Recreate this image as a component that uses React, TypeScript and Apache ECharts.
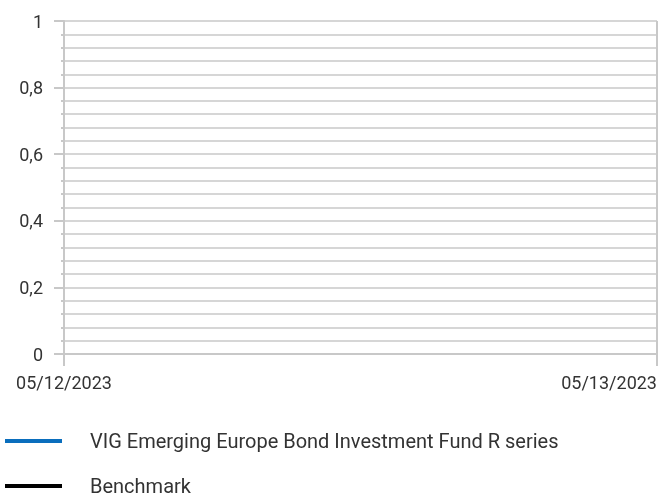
import React, { useEffect, useRef } from "react";
import * as echarts from "echarts";

const categories: string[] = ["05/12/2023", "05/13/2023"];
const fundSeriesName = "VIG Emerging Europe Bond Investment Fund R series";
const benchmarkName = "Benchmark";
// No values are plotted in the reference chart
const fundValues: (number | null)[] = [];
const benchmarkValues: (number | null)[] = [];
const yMin = 0;
const yMax = 1;
const yInterval = 0.2;

const FONT = "Roboto";
const GRID_COLOR = "#d6d6d6";
const AXIS_COLOR = "#c8c8c8";
const TEXT_COLOR = "#333333";

const legendText = {
  fontFamily: FONT,
  fontSize: 20,
  color: TEXT_COLOR,
  lineHeight: 22,
  padding: [0, 0, 0, 23],
};

export default function App() {
  const ref = useRef<HTMLDivElement>(null);
  useEffect(() => {
    if (!ref.current) return;
    const chart = echarts.init(ref.current, undefined, { renderer: "svg" });
    chart.setOption({
      animation: false,
      grid: { left: 64, right: 7, top: 21, bottom: 140, containLabel: false, outerBoundsMode: "none" },
      legend: [
        {
          left: 5,
          top: 430,
          padding: 0,
          icon: "rect",
          itemWidth: 57,
          itemHeight: 4,
          textStyle: legendText,
          data: [fundSeriesName],
        },
        {
          left: 5,
          top: 475,
          padding: 0,
          icon: "rect",
          itemWidth: 57,
          itemHeight: 4,
          textStyle: legendText,
          data: [benchmarkName],
        },
      ],
      xAxis: {
        type: "category",
        boundaryGap: false,
        data: categories,
        axisLine: { show: true, lineStyle: { color: AXIS_COLOR, width: 2 } },
        axisTick: { show: true, length: 12, lineStyle: { color: AXIS_COLOR, width: 2 } },
        axisLabel: {
          fontFamily: FONT,
          fontSize: 18,
          color: TEXT_COLOR,
          margin: 19,
          verticalAlign: "top",
          interval: 0,
          alignMaxLabel: "right",
        },
        splitLine: { show: true, lineStyle: { color: AXIS_COLOR, width: 2 } },
      },
      yAxis: {
        type: "value",
        min: yMin,
        max: yMax,
        interval: yInterval,
        axisLine: { show: true, lineStyle: { color: AXIS_COLOR, width: 2 } },
        axisTick: { show: true, length: 10, lineStyle: { color: AXIS_COLOR, width: 2 } },
        minorTick: { show: true, splitNumber: 5, length: 3, lineStyle: { color: AXIS_COLOR, width: 2 } },
        minorSplitLine: { show: true, lineStyle: { color: GRID_COLOR, width: 2 } },
        splitLine: { show: true, lineStyle: { color: GRID_COLOR, width: 2 } },
        axisLabel: {
          fontFamily: FONT,
          fontSize: 18,
          color: TEXT_COLOR,
          margin: 21,
          formatter: (v: number) => String(Math.round(v * 10) / 10).replace(".", ","),
        },
      },
      series: [
        {
          name: fundSeriesName,
          type: "line",
          data: fundValues,
          showSymbol: false,
          lineStyle: { color: "#0a6ebd", width: 3 },
          itemStyle: { color: "#0a6ebd" },
        },
        {
          name: benchmarkName,
          type: "line",
          data: benchmarkValues,
          showSymbol: false,
          lineStyle: { color: "#000000", width: 3 },
          itemStyle: { color: "#000000" },
        },
      ],
    });
    return () => chart.dispose();
  }, []);
  return (
    <div
      ref={ref}
      style={{ position: "fixed", left: 0, top: 0, width: 664, height: 494 }}
    />
  );
}
